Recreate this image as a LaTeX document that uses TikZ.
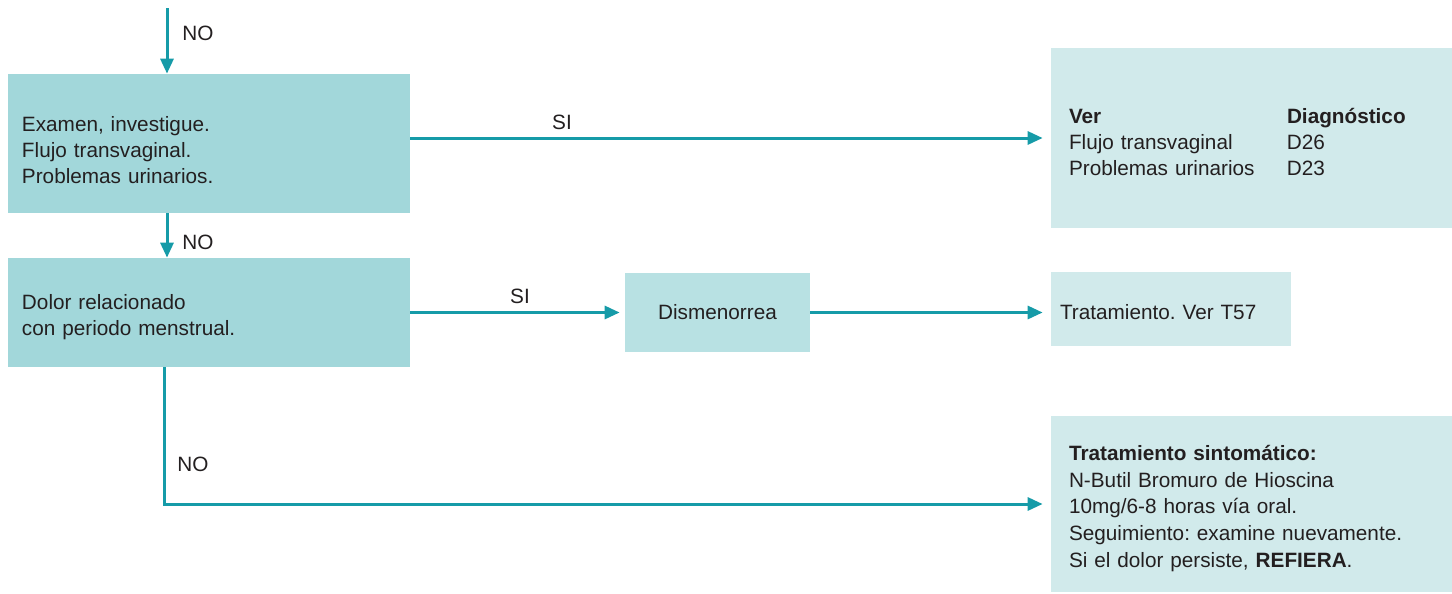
\documentclass[tikz,border=0pt]{standalone}
\usepackage{fontspec}
\setmainfont{Liberation Sans}
\frenchspacing
\usetikzlibrary{arrows.meta}
\tikzset{
  flow/.style={
    font=\fontsize{11.8}{14.8}\selectfont,
    text=textgrey
  },
  box-dark/.style={
    flow,
    fill=boxdark,
    align=left,
    inner ysep=0pt
  },
  box-mid/.style={
    flow,
    fill=boxmid,
    align=center,
    inner sep=0pt
  },
  box-light/.style={
    flow,
    fill=boxlight,
    align=left,
    inner ysep=0pt
  },
  arrow-teal/.style={
    draw=flowteal,
    line width=0.6mm,
    -{Triangle[length=0.3cm,width=0.26cm]}
  },
  label-text/.style={flow, inner sep=0pt}
}
\definecolor{flowteal}{RGB}{22,155,168}
\definecolor{boxdark}{RGB}{162,215,218}
\definecolor{boxmid}{RGB}{184,225,227}
\definecolor{boxlight}{RGB}{209,234,235}
\definecolor{textgrey}{RGB}{35,31,32}

\begin{document}
\begin{tikzpicture}
  \useasboundingbox (0,0) rectangle (29.04,-11.86);

  % left column
  \coordinate (top) at (3.34,-0.16);
  \node[box-dark, minimum width=8.04cm, minimum height=2.78cm,
        text width=7.48cm, inner xsep=0.28cm, text height=16.5pt] (exam) at (4.18,-2.87)
    {Examen, investigue.\\Flujo transvaginal.\\Problemas urinarios.};
  \node[box-dark, minimum width=8.04cm, minimum height=2.18cm,
        text width=7.48cm, inner xsep=0.28cm, text height=14pt] (dolor) at (4.18,-6.25)
    {Dolor relacionado\\con periodo menstrual.};

  % middle and right column
  \node[box-mid, minimum width=3.7cm, minimum height=1.58cm] (dism) at (14.35,-6.25)
    {Dismenorrea};
  \node[box-light, minimum width=8.02cm, minimum height=3.6cm,
        text width=7.3cm, inner xsep=0.36cm, text height=17pt] (ver) at (25.03,-2.76)
    {\begin{tabular}[t]{@{}p{4.36cm}@{}l@{}}
       \bfseries Ver & \bfseries Diagnóstico\\
       Flujo transvaginal & D26\\
       Problemas urinarios & D23
     \end{tabular}};
  \node[box-light, minimum width=4.8cm, minimum height=1.48cm,
        text width=4.44cm, inner xsep=0.18cm, text height=11.5pt] (trat) at (23.42,-6.18)
    {Tratamiento. Ver T57};
  \node[box-light, minimum width=8.02cm, minimum height=3.52cm,
        text width=7.3cm, inner xsep=0.36cm, font=\fontsize{11.8}{15.2}\selectfont,
        text height=13.5pt] (sint) at (25.03,-10.08)
    {\textbf{Tratamiento sintomático:}\\
     N-Butil Bromuro de Hioscina\\
     10mg/6-8 horas vía oral.\\
     Seguimiento: examine nuevamente.\\
     Si el dolor persiste, \textbf{REFIERA}.};

  % connectors
  \draw[arrow-teal] (top) -- (top |- exam.north);
  \draw[arrow-teal] (top |- exam.south) -- (top |- dolor.north);
  \draw[arrow-teal, shorten >=0.16cm] (exam.east |- ver.west) -- (ver.west);
  \draw[arrow-teal, shorten >=0.1cm] (dolor.east) -- (dism.west);
  \draw[arrow-teal, shorten >=0.16cm] (dism.east) -- (dism.east -| trat.west);
  \draw[arrow-teal, shorten >=0.16cm] ([xshift=-0.06cm]top |- dolor.south) |- (sint.west);

  % labels
  \node[label-text] (no-top) at (3.96,-0.66) {NO};
  \node[label-text] (si-ver) at (11.24,-2.44) {SI};
  \node[label-text] (no-dolor) at (3.96,-4.84) {NO};
  \node[label-text] (si-dism) at (10.4,-5.92) {SI};
  \node[label-text] (no-sint) at (3.86,-9.28) {NO};
\end{tikzpicture}
\end{document}
